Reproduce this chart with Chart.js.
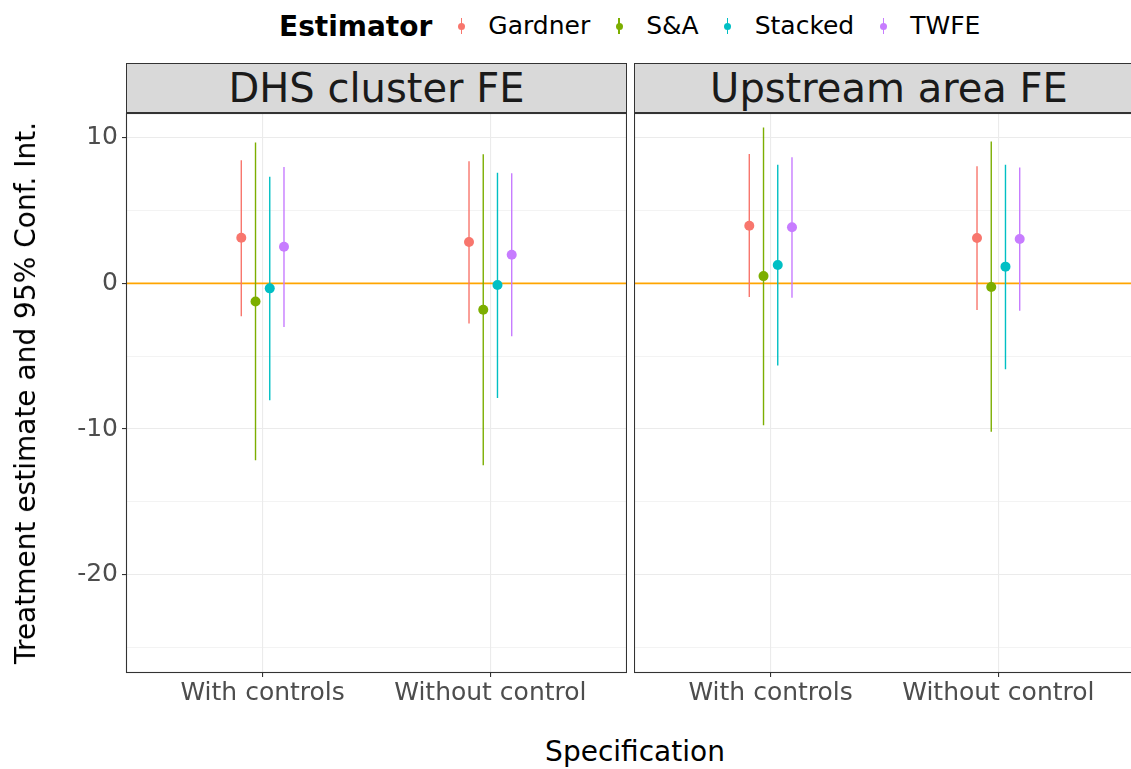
<!DOCTYPE html>
<html>
<head>
<meta charset="utf-8">
<script src="https://cdn.jsdelivr.net/npm/chart.js@4.4.1/dist/chart.umd.min.js"></script>
<style>
  html, body { margin: 0; padding: 0; background: #fff; overflow: hidden; }
  body { width: 1131px; height: 769px; position: relative; font-family: "DejaVu Sans", sans-serif; }
  .strip { position: absolute; top: 63px; height: 50px; box-sizing: border-box; background: #d9d9d9;
           border: 1px solid #333; color: #1a1a1a; font-size: 40px; line-height: 49px; text-align: center; white-space: nowrap; }
  canvas { position: absolute; top: 113px; }
  #legend { position: absolute; left: 279px; top: 11px; height: 30px; display: flex; align-items: center; white-space: nowrap; }
  #legend .title { font-weight: bold; font-size: 28px; line-height: 30px; color: #000; position: relative; top: 1px; }
  #legend .lab { font-size: 25px; line-height: 30px; color: #000; }
  #legend .key { position: relative; width: 10px; height: 30px; margin: 0 22px 0 24px; }
  #legend .key::before { content: ""; position: absolute; left: 4.3px; top: 7px; width: 1.4px; height: 16px; background: var(--c); }
  #legend .key::after { content: ""; position: absolute; left: 1.5px; top: 11.5px; width: 7px; height: 7px; border-radius: 50%; background: var(--c); }
  .ytitle { position: absolute; left: 26px; top: 393px; font-size: 28px; line-height: 34px; color: #000; white-space: nowrap;
            transform: translate(-50%, -50%) rotate(-90deg); }
  .xtitle { position: absolute; left: 635px; top: 735px; font-size: 28px; line-height: 34px; color: #000; white-space: nowrap;
            transform: translateX(-50%); }
</style>
</head>
<body>
<div id="legend"></div>
<div class="strip" id="strip0" style="left:126px; width:501px;"></div>
<div class="strip" id="strip1" style="left:634px; width:510px;"></div>
<canvas id="panel0" width="627" height="607" style="left:0px;"></canvas>
<canvas id="panel1" width="501" height="607" style="left:634px;"></canvas>
<div class="ytitle">Treatment estimate and 95% Conf. Int.</div>
<div class="xtitle">Specification</div>

<script>
const specs = ['With controls', 'Without control'];
const estimators = ['Gardner', 'S&A', 'Stacked', 'TWFE'];
const colors = ['#F8766D', '#7CAE00', '#00BFC4', '#C77CFF'];
const panelTitles = ['DHS cluster FE', 'Upstream area FE'];

// rows = estimators, columns = specs
const dhsEstimate = [[3.14, 2.84], [-1.24, -1.81], [-0.34, -0.11], [2.52, 1.97]];
const dhsLower = [[-2.25, -2.75], [-12.14, -12.49], [-8.02, -7.86], [-3.00, -3.62]];
const dhsUpper = [[8.45, 8.38], [9.67, 8.87], [7.33, 7.60], [8.00, 7.56]];

const upstreamEstimate = [[3.96, 3.12], [0.50, -0.25], [1.26, 1.15], [3.85, 3.05]];
const upstreamLower = [[-0.94, -1.83], [-9.74, -10.19], [-5.64, -5.89], [-0.99, -1.88]];
const upstreamUpper = [[8.89, 8.04], [10.70, 9.74], [8.15, 8.15], [8.66, 7.95]];

const yTicks = [-25, -20, -15, -10, -5, 0, 5, 10];
const yMin = -26.75, yMax = 11.7;
const refLine = 0;

const FONT = '"DejaVu Sans", sans-serif';
const xMin = 0.4, xMax = specs.length + 0.6;
const dodgeWidth = 0.25;
const xAxisHeight = 47;

// legend + strips
const legend = document.getElementById('legend');
legend.innerHTML = '<span class="title">Estimator</span>' + estimators.map((e, i) =>
  `<span class="key" style="--c:${colors[i]}"></span><span class="lab">${e.replace('&', '&amp;')}</span>`).join('');
panelTitles.forEach((t, i) => document.getElementById('strip' + i).textContent = t);

const panelBorder = {
  id: 'panelBorder',
  afterDraw(chart) {
    const a = chart.chartArea, ctx = chart.ctx;
    ctx.save();
    ctx.strokeStyle = '#333333';
    ctx.lineWidth = 1.1;
    ctx.strokeRect(a.left + 0.5, a.top + 0.5, a.right - a.left - 1, a.bottom - a.top - 1);
    ctx.restore();
  }
};

function makePanel(id, est, lo, hi, showY) {
  const n = estimators.length;
  const datasets = [];
  estimators.forEach((name, i) => {
    const off = (i - (n - 1) / 2) * dodgeWidth / n;
    datasets.push({
      type: 'line',
      label: name + ' CI',
      data: specs.flatMap((s, j) => [
        { x: j + 1 + off, y: lo[i][j] },
        { x: j + 1 + off, y: hi[i][j] },
        { x: j + 1 + off, y: null }
      ]),
      borderColor: colors[i],
      borderWidth: 1.4,
      pointRadius: 0,
      spanGaps: false,
      fill: false,
      order: 1
    });
    datasets.push({
      type: 'scatter',
      label: name,
      data: specs.map((s, j) => ({ x: j + 1 + off, y: est[i][j] })),
      backgroundColor: colors[i],
      borderWidth: 0,
      pointRadius: 5,
      order: 0
    });
  });
  datasets.push({
    type: 'line',
    label: 'zero',
    data: [{ x: xMin, y: refLine }, { x: xMax, y: refLine }],
    borderColor: '#FFA500',
    borderWidth: 1.6,
    pointRadius: 0,
    order: 2
  });

  const isMajor = ctx => ctx.tick && ctx.tick.value % 10 === 0;

  return new Chart(document.getElementById(id), {
    type: 'scatter',
    data: { datasets },
    plugins: [panelBorder],
    options: {
      responsive: false,
      animation: false,
      events: [],
      layout: { padding: 0, autoPadding: false },
      plugins: { legend: { display: false }, tooltip: { enabled: false } },
      scales: {
        x: {
          type: 'linear', min: xMin, max: xMax,
          afterBuildTicks: s => { s.ticks = specs.map((_, j) => ({ value: j + 1 })); },
          afterFit: s => { s.height = xAxisHeight; s.paddingLeft = 0; s.paddingRight = 0; },
          ticks: {
            callback: (v, idx) => specs[idx],
            font: { family: FONT, size: 25 }, color: '#4D4D4D',
            padding: 1, maxRotation: 0, autoSkip: false
          },
          grid: { color: '#EBEBEB', lineWidth: 1.1, tickLength: 4, tickColor: '#333333', tickWidth: 1.1 },
          border: { display: false }
        },
        y: {
          type: 'linear', min: yMin, max: yMax,
          afterBuildTicks: s => { s.ticks = yTicks.map(v => ({ value: v })); },
          afterFit: s => { s.width = showY ? 126 : 0; s.paddingTop = 0; s.paddingBottom = 0; },
          ticks: {
            display: showY,
            callback: v => (v % 10 === 0 ? String(v) : ''),
            font: { family: FONT, size: 25 }, color: '#4D4D4D', padding: 4
          },
          grid: {
            color: '#EBEBEB',
            lineWidth: ctx => (isMajor(ctx) ? 1.1 : 0.6),
            drawTicks: showY, tickLength: 4,
            tickColor: ctx => (isMajor(ctx) ? '#333333' : 'rgba(0,0,0,0)'),
            tickWidth: 1.1
          },
          border: { display: false }
        }
      }
    }
  });
}

makePanel('panel0', dhsEstimate, dhsLower, dhsUpper, true);
makePanel('panel1', upstreamEstimate, upstreamLower, upstreamUpper, false);
</script>
</body>
</html>
